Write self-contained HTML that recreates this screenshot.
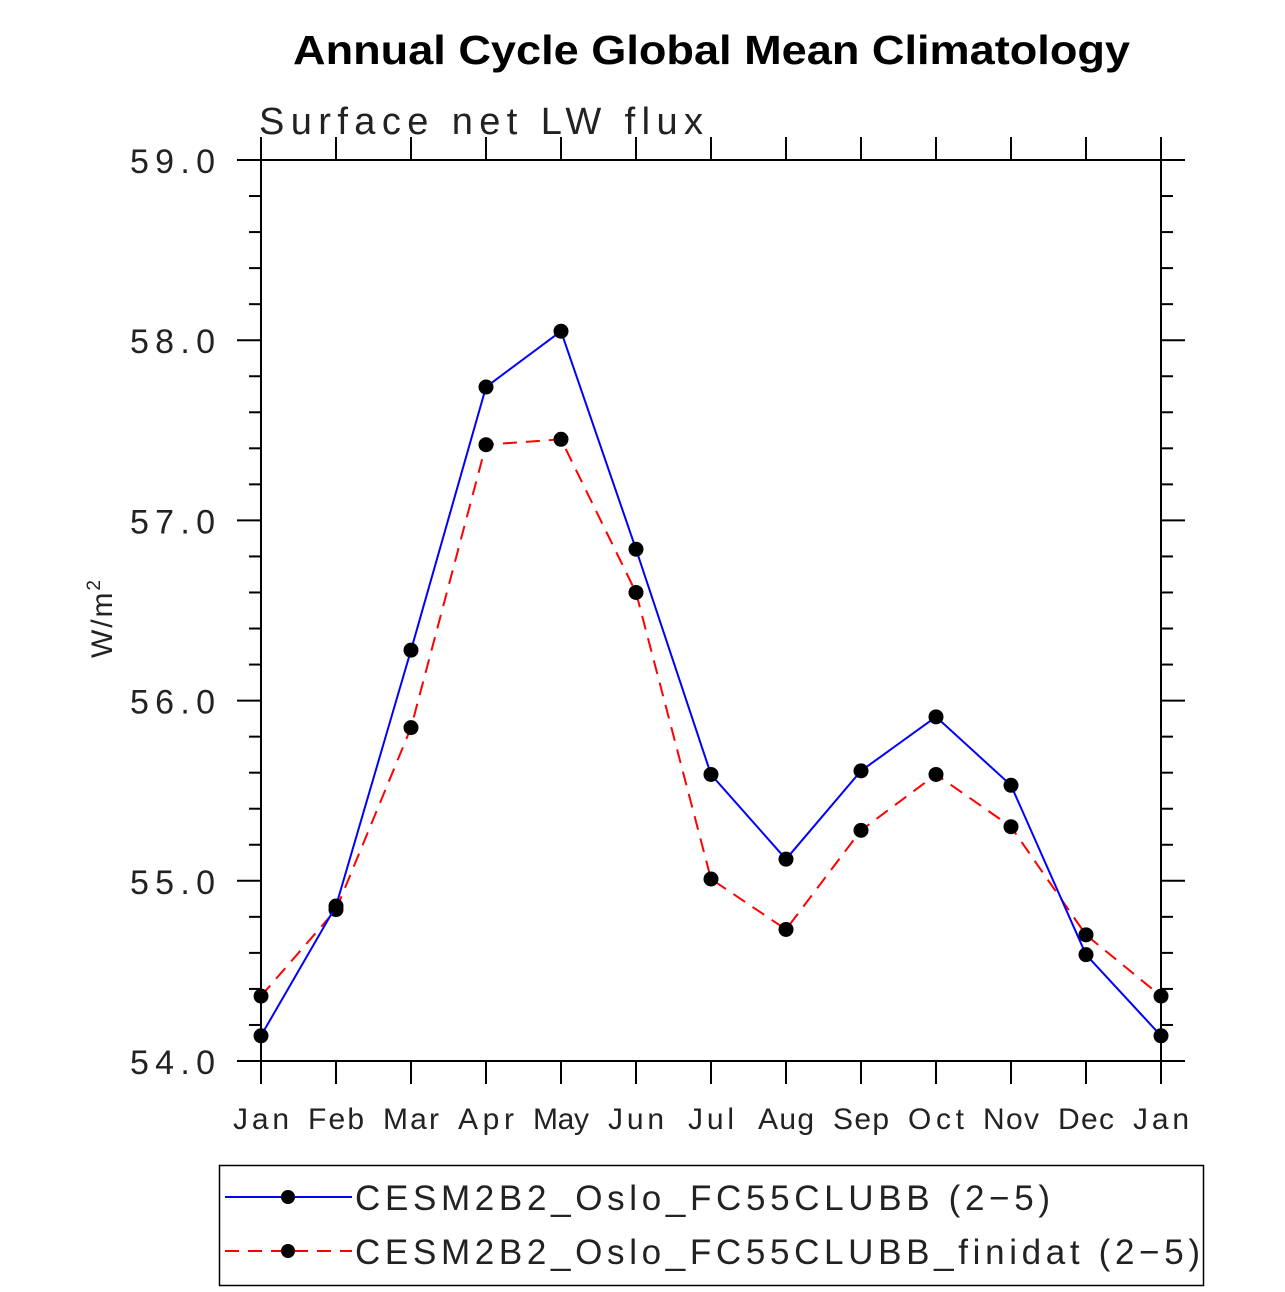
<!DOCTYPE html>
<html><head><meta charset="utf-8"><style>
html,body{margin:0;padding:0;background:#fff;}
svg{display:block;}
text{font-family:"Liberation Sans",sans-serif;}
</style></head><body>
<svg id="chart" width="1285" height="1292" viewBox="0 0 1285 1292" xmlns="http://www.w3.org/2000/svg">
<text x="293" y="64" font-size="41" font-weight="bold" textLength="837" lengthAdjust="spacingAndGlyphs">Annual Cycle Global Mean Climatology</text>
<text x="259" y="134" font-size="38" fill="#222" textLength="444" lengthAdjust="spacing">Surface net LW flux</text>
<text transform="translate(112,658) rotate(-90)" font-size="30" fill="#222" textLength="78" lengthAdjust="spacing">W/m<tspan dy="-12" font-size="19">2</tspan></text>
<g id="axes"></g>
<g id="series"></g>
<g>
<rect x="219.5" y="1165.5" width="984" height="120" fill="none" stroke="#000" stroke-width="1.5"/>
<g>
<line x1="225" y1="1197" x2="352" y2="1197" stroke="#0000ff" stroke-width="2"/>
<circle cx="288" cy="1197" r="7" fill="#000"/>
<text x="355" y="1210" font-size="35" fill="#222" textLength="695" lengthAdjust="spacing">CESM2B2_Oslo_FC55CLUBB (2−5)</text>
</g>
<g>
<line x1="225" y1="1251" x2="352" y2="1251" stroke="#ff0000" stroke-width="2" stroke-dasharray="14,9"/>
<circle cx="288" cy="1251" r="7" fill="#000"/>
<text x="355" y="1264" font-size="35" fill="#222" textLength="845" lengthAdjust="spacing">CESM2B2_Oslo_FC55CLUBB_finidat (2−5)</text>
</g>
</g>
</svg>
<script>
const months = ["Jan","Feb","Mar","Apr","May","Jun","Jul","Aug","Sep","Oct","Nov","Dec","Jan"];
const blueValues = [54.14,54.86,56.28,57.74,58.05,56.84,55.59,55.12,55.61,55.91,55.53,54.59,54.14];
const redValues = [54.36,54.84,55.85,57.42,57.45,56.60,55.01,54.73,55.28,55.59,55.30,54.70,54.36];
const yTicks = [54,55,56,57,58,59];
const yTickLabels = ["54.0","55.0","56.0","57.0","58.0","59.0"];

const X0=261,X1=1161,Y0=1061,Y1=160,YMIN=54,YMAX=59;
const NS="http://www.w3.org/2000/svg";
function xs(i){return X0+(X1-X0)*i/(months.length-1);}
function ys(v){return Y0-(v-YMIN)/(YMAX-YMIN)*(Y0-Y1);}
function mk(tag,attrs,parent){const e=document.createElementNS(NS,tag);for(const k in attrs)e.setAttribute(k,attrs[k]);parent.appendChild(e);return e;}
const axes=document.getElementById('axes');
const frame=mk('rect',{x:X0,y:Y1,width:X1-X0,height:Y0-Y1,fill:'none',stroke:'#000','stroke-width':2},axes);


months.forEach((m,i)=>{
  const x=xs(i);
  const t1=mk('line',{x1:x,y1:Y0,x2:x,y2:Y0+23,stroke:'#000','stroke-width':2},axes);
  
  
  const t2=mk('line',{x1:x,y1:Y1,x2:x,y2:Y1-23,stroke:'#000','stroke-width':2},axes);
  
  
  const w=(m.length===3)?(m==="Jul"?46:56):56;
  const l=mk('text',{x:x,y:1129,'text-anchor':'middle','font-size':30,fill:'#222',textLength:w,lengthAdjust:'spacing'},axes);
  l.textContent=m;
  
  
});
for(let v=YMIN;v<=YMAX+1e-9;v+=0.2){
  const y=ys(v);
  const major=Math.abs(v-Math.round(v))<1e-6;
  const len=major?24:12;
  const a=mk('line',{x1:X0-len,y1:y,x2:X0,y2:y,stroke:'#000','stroke-width':2},axes);
  
  
  const b=mk('line',{x1:X1,y1:y,x2:X1+len,y2:y,stroke:'#000','stroke-width':2},axes);
  
  
}
yTicks.forEach((v,i)=>{
  const l=mk('text',{x:130,y:ys(v)+13,'font-size':34,fill:'#222',textLength:85,lengthAdjust:'spacing'},axes);
  l.textContent=yTickLabels[i];
  
  
});
const ser=document.getElementById('series');
function drawSeries(vals,color,dash,name){
  const pts=vals.map((v,i)=>xs(i)+','+ys(v)).join(' ');
  const pl=mk('polyline',{points:pts,fill:'none',stroke:color,'stroke-width':2,'stroke-dasharray':dash},ser);
  
  
  vals.forEach((v,i)=>{
    const c=mk('circle',{cx:xs(i),cy:ys(v),r:7.5,fill:'#000'},ser);
    
    
  });
}
drawSeries(redValues,'#ff0000','14,9','red-series');
drawSeries(blueValues,'#0000ff','none','blue-series');
</script>
</body></html>
